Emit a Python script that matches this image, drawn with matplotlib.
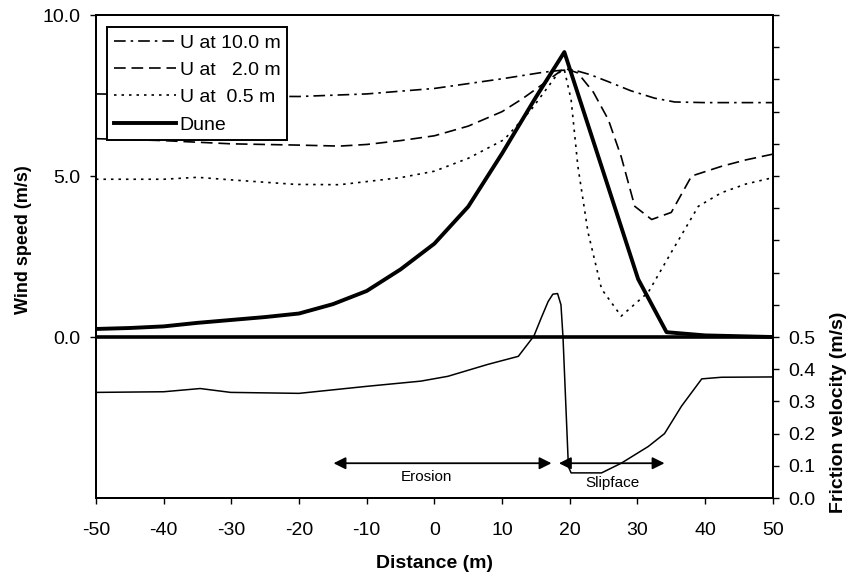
import numpy as np
import matplotlib.pyplot as plt
from matplotlib.ticker import FixedLocator, FuncFormatter

plt.rcParams["font.family"] = ["Liberation Sans", "DejaVu Sans"]
plt.rcParams["axes.unicode_minus"] = False

# dune profile (wind speed axis units)
dune_x = [-50, -45, -40, -35, -30, -25, -20, -15, -10, -5, 0, 5, 10, 15, 19.2, 25, 30.1, 34.3, 40, 50]
dune_y = [0.25, 0.28, 0.33, 0.44, 0.53, 0.62, 0.73, 1.02, 1.43, 2.1, 2.9, 4.05, 5.7, 7.45, 8.85,
          5.1, 1.8, 0.15, 0.05, 0.0]

# wind speed at 10.0 m
u10_x = [-50, -40, -30, -20, -10, 0, 5, 10, 16, 18.5, 20.5, 23, 25.7, 29, 32.5, 35.5, 40, 50]
u10_y = [7.55, 7.52, 7.48, 7.47, 7.55, 7.72, 7.87, 8.02, 8.22, 8.28, 8.3, 8.15, 7.93, 7.65, 7.42,
         7.3, 7.28, 7.28]

# wind speed at 2.0 m
u2_x = [-50, -40, -30, -20, -14, -10, -5, 0, 5, 10, 13, 16, 19.2, 21.2, 23.5, 25.7, 27.6,
        29.6, 32.1, 35, 38, 42.4, 46, 50]
u2_y = [6.16, 6.1, 6.0, 5.96, 5.93, 5.98, 6.1, 6.25, 6.55, 7.0, 7.4, 7.85, 8.35, 8.2, 7.6, 6.75, 5.6,
        4.06, 3.65, 3.87, 5.0, 5.3, 5.5, 5.68]

# wind speed at 0.5 m
u05_x = [-50, -40, -35, -30, -20.5, -14, -5, 0, 5, 10.3, 14.3, 18.3, 19.2, 20.2, 21.2, 22.7,
         24.7, 27.6, 31.6, 35, 39, 42.4, 46, 50]
u05_y = [4.9, 4.9, 4.96, 4.88, 4.74, 4.73, 4.95, 5.15, 5.55, 6.13, 7.06, 8.2, 8.3, 7.37, 5.3, 3.25,
         1.49, 0.65, 1.39, 2.63, 4.06, 4.48, 4.75, 4.95]

# friction velocity (right axis)
ustar_x = [-50, -40, -34.6, -30.1, -20, -9.9, -2, 2, 7.9, 12.4, 14.7, 15.8, 16.8, 17.5, 18.2,
           18.7, 19, 19.8, 20.2, 24.7, 27.6, 31.6, 34, 36.5, 39.5, 42.4, 50]
ustar_y = [0.328, 0.33, 0.34, 0.328, 0.325, 0.347, 0.363, 0.378, 0.415, 0.44, 0.503, 0.56, 0.61,
           0.633, 0.635, 0.6, 0.50, 0.097, 0.078, 0.078, 0.108, 0.16, 0.2, 0.285, 0.37, 0.375, 0.376]

# annotation arrows (start, end) in distance, height in friction velocity units
erosion_span = (-14.9, 17.3)
slipface_span = (18.4, 34.0)
arrow_level = 0.108


fig = plt.figure(figsize=(8.53, 5.74), dpi=100)
ax = fig.add_axes([0.1125, 0.1324, 0.7935, 0.8414])
ax2 = ax.twinx()

ax.plot(u10_x, u10_y, color="black", lw=1.2, dashes=(7, 3, 1.5, 3), label="U at 10.0 m")
ax.plot(u2_x, u2_y, color="black", lw=1.2, dashes=(7, 3.5), label="U at   2.0 m")
ax.plot(u05_x, u05_y, color="black", lw=1.2, dashes=(1.5, 3), label="U at  0.5 m")
ax.plot(dune_x, dune_y, color="black", lw=2.8, label="Dune")
ax.axhline(0, color="black", lw=2.6)

ax2.plot(ustar_x, ustar_y, color="black", lw=1.1)

for (x0, x1) in (erosion_span, slipface_span):
    ax2.annotate("", xy=(x1, arrow_level), xytext=(x0, arrow_level),
                 arrowprops=dict(arrowstyle="<|-|>", color="black", lw=1.3,
                                 mutation_scale=18, shrinkA=0, shrinkB=0))
ax2.text(-1.2, 0.066, "Erosion", ha="center", va="center", fontsize=11)
ax2.text(26.3, 0.047, "Slipface", ha="center", va="center", fontsize=11)

ax.set_xlim(-50, 50)
ax.set_ylim(-5, 10)
ax2.set_ylim(0, 1.5)

ax.set_xticks(np.arange(-50, 51, 10))
ax.set_yticks([0, 5, 10])
ax.yaxis.set_major_formatter(FuncFormatter(lambda v, p: f"{v:.1f}"))
ax2.yaxis.set_major_locator(FixedLocator(np.round(np.arange(0, 1.51, 0.1), 1)))
ax2.yaxis.set_major_formatter(FuncFormatter(lambda v, p: f"{v:.1f}" if v <= 0.501 else ""))

for a in (ax, ax2):
    a.tick_params(direction="out", length=4, width=1, labelsize=14, colors="black", pad=7)
    for s in a.spines.values():
        s.set_linewidth(1.4)
ax.tick_params(axis="x", pad=13)

ax.set_xlabel("Distance (m)", fontsize=14, fontweight="bold", labelpad=12)
ax.set_ylabel("Wind speed (m/s)", fontsize=13, fontweight="bold")
ax.yaxis.set_label_coords(-0.095, 0.534)
ax2.set_ylabel("Friction velocity (m/s)", fontsize=14, fontweight="bold")
ax2.yaxis.set_label_coords(1.085, 0.178)

leg = ax.legend(loc="upper left", bbox_to_anchor=(0.016, 0.975), borderaxespad=0,
                fontsize=14, handlelength=3.2, handletextpad=0.2, labelspacing=0.5,
                fancybox=False, framealpha=1, edgecolor="black", borderpad=0.35)
leg.get_frame().set_linewidth(1.4)

fig.savefig("out.png", dpi=100)
